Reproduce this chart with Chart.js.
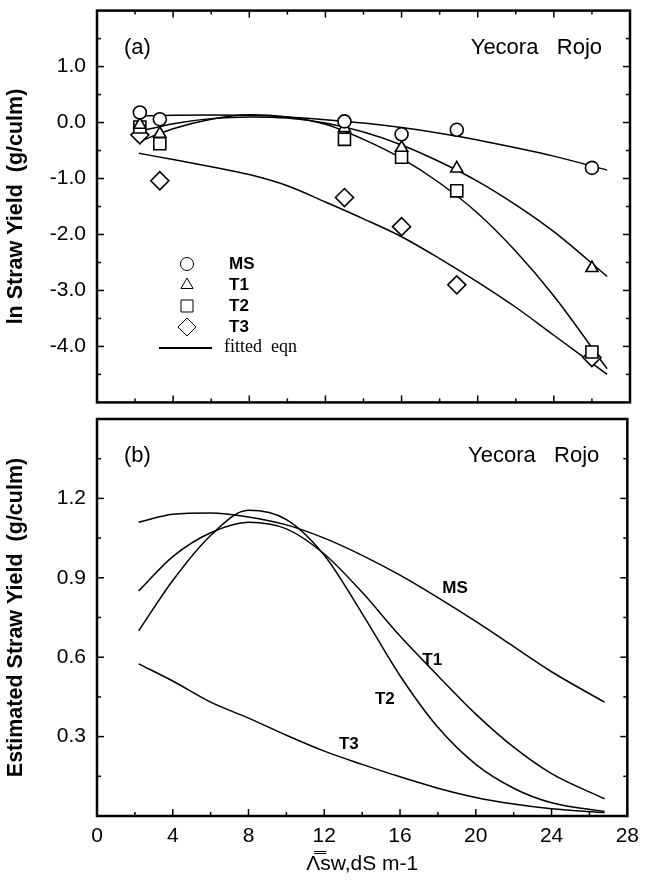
<!DOCTYPE html>
<html>
<head>
<meta charset="utf-8">
<script src="https://cdn.jsdelivr.net/npm/chart.js@4.4.1/dist/chart.umd.min.js"></script>
<style>
  html, body { margin: 0; padding: 0; background: #fff; }
  #wrap { position: relative; width: 647px; height: 882px; }
  #panelA { position: absolute; left: 0; top: 0; }
  #panelB { position: absolute; left: 0; top: 413px; }
</style>
</head>
<body>
<div id="wrap">
  <canvas id="panelA" width="647" height="413" style="width:647px;height:413px"></canvas>
  <canvas id="panelB" width="647" height="469" style="width:647px;height:469px"></canvas>
</div>
<script>
// observed ln straw yield, panel (a)
const xObs = [2.25, 3.3, 13.0, 16.0, 18.9, 26.0];
const msObs = [0.18, 0.06, 0.02, -0.21, -0.13, -0.81];
const t1Obs = [-0.04, -0.2, -0.1, -0.45, -0.82, -2.6];
const t2Obs = [-0.08, -0.38, -0.3, -0.62, -1.22, -4.1];
const t3Obs = [-0.22, -1.04, -1.34, -1.86, -2.9, -4.2];

// fitted eqn curves, panel (a)
const xFit = [2.2, 4, 6, 8, 10, 12, 14, 16, 18, 20, 22, 24, 26.8];
const msFit = [0.12, 0.13, 0.135, 0.13, 0.1, 0.05, -0.01, -0.09, -0.19, -0.31, -0.45, -0.6, -0.85];
const t1Fit = [-0.16, -0.02, 0.07, 0.1, 0.08, -0.01, -0.17, -0.4, -0.7, -1.05, -1.47, -1.95, -2.75];
const t2Fit = [-0.34, -0.11, 0.06, 0.14, 0.1, -0.03, -0.3, -0.64, -1.08, -1.62, -2.3, -3.1, -4.4];
const t3Fit = [-0.55, -0.66, -0.79, -0.93, -1.13, -1.42, -1.72, -2.04, -2.43, -2.85, -3.3, -3.8, -4.5];

// estimated straw yield, panel (b)
const msEst = [1.11, 1.14, 1.145, 1.13, 1.1, 1.05, 0.985, 0.91, 0.825, 0.735, 0.64, 0.545, 0.43];
const t1Est = [0.85, 0.98, 1.07, 1.11, 1.085, 0.99, 0.845, 0.68, 0.53, 0.385, 0.26, 0.16, 0.065];
const t2Est = [0.7, 0.89, 1.06, 1.155, 1.12, 0.985, 0.765, 0.53, 0.335, 0.195, 0.105, 0.05, 0.017];
const t3Est = [0.575, 0.51, 0.43, 0.37, 0.305, 0.245, 0.195, 0.148, 0.105, 0.07, 0.045, 0.027, 0.013];

const seriesNames = ["MS", "T1", "T2", "T3"];

// ticks
const xTicks = [0, 4, 8, 12, 16, 20, 24, 28];
const xMinor = [2, 6, 10, 14, 18, 22, 26];
const yTicksA = [-4, -3, -2, -1, 0, 1];
const yMinorA = [-4.5, -3.5, -2.5, -1.5, -0.5, 0.5, 1.5];
const yTicksB = [0.3, 0.6, 0.9, 1.2];
const yMinorB = [0.15, 0.45, 0.75, 1.05, 1.35];

const FONT = "'Liberation Sans', Arial, sans-serif";

const pts = (xs, ys) => xs.map((x, i) => ({ x: x, y: ys[i] }));

// frame with inward ticks
const framePlugin = {
  id: "frame",
  afterDraw(chart, args, opts) {
    const { ctx, chartArea: a } = chart;
    const x = chart.scales.x, y = chart.scales.y;
    ctx.save();
    ctx.strokeStyle = "#000";
    ctx.lineWidth = 1.5;
    const tick = (px, py, dx, dy) => {
      ctx.beginPath();
      ctx.moveTo(px, py);
      ctx.lineTo(px + dx, py + dy);
      ctx.stroke();
    };
    xTicks.forEach(v => {
      const p = x.getPixelForValue(v);
      tick(p, a.bottom, 0, -7);
      if (opts.top) tick(p, a.top, 0, 7);
    });
    xMinor.forEach(v => {
      const p = x.getPixelForValue(v);
      tick(p, a.bottom, 0, -4);
      if (opts.top) tick(p, a.top, 0, 4);
    });
    opts.yMajor.forEach(v => {
      const p = y.getPixelForValue(v);
      tick(a.left, p, 7, 0);
      tick(a.right, p, -7, 0);
    });
    opts.yMinor.forEach(v => {
      const p = y.getPixelForValue(v);
      tick(a.left, p, 4, 0);
      tick(a.right, p, -4, 0);
    });
    ctx.lineWidth = 2.5;
    ctx.strokeRect(a.left, a.top, a.right - a.left, a.bottom - a.top);
    ctx.restore();
  }
};

// panel tag and cultivar name
const tagPlugin = {
  id: "tags",
  afterDraw(chart, args, opts) {
    const { ctx, chartArea: a } = chart;
    ctx.save();
    ctx.fillStyle = "#000";
    ctx.font = "22px " + FONT;
    ctx.textBaseline = "middle";
    ctx.textAlign = "left";
    ctx.fillText(opts.tag, a.left + 27, a.top + 37);
    ctx.textAlign = "right";
    ctx.fillText("Yecora   Rojo", a.right - 28, a.top + 37);
    ctx.restore();
  }
};

// legend of panel (a)
const legendPlugin = {
  id: "keyA",
  afterDraw(chart) {
    const ctx = chart.ctx;
    const styles = [
      { pointStyle: "circle", radius: 6.5 },
      { pointStyle: "triangle", radius: 7 },
      { pointStyle: "rect", radius: 8.5 },
      { pointStyle: "rectRot", radius: 9 }
    ];
    ctx.save();
    ctx.strokeStyle = "#000";
    styles.forEach((s, i) => {
      const yy = 264 + i * 21;
      ctx.fillStyle = "#fff";
      Chart.helpers.drawPoint(ctx, { pointStyle: s.pointStyle, radius: s.radius, rotation: 0, borderWidth: 1.6 }, 187, yy);
      ctx.fillStyle = "#000";
      ctx.font = "bold 17px " + FONT;
      ctx.textBaseline = "middle";
      ctx.fillText(seriesNames[i], 229, yy);
    });
    ctx.lineWidth = 2;
    ctx.beginPath();
    ctx.moveTo(159, 348);
    ctx.lineTo(212, 348);
    ctx.stroke();
    ctx.font = "18px 'Liberation Serif', 'Times New Roman', serif";
    ctx.fillText("fitted  eqn", 224, 347);
    ctx.restore();
  }
};

// curve labels of panel (b), anchored in data units
const curveLabelPlugin = {
  id: "curveLabels",
  afterDraw(chart, args, opts) {
    const { ctx } = chart;
    ctx.save();
    ctx.fillStyle = "#000";
    ctx.font = "bold 17px " + FONT;
    ctx.textAlign = "center";
    ctx.textBaseline = "middle";
    opts.items.forEach(it => {
      ctx.fillText(it.text, chart.scales.x.getPixelForValue(it.x), chart.scales.y.getPixelForValue(it.y));
    });
    ctx.restore();
  }
};

const markerSet = (label, data, style, radius) => ({
  label: label,
  data: data,
  showLine: false,
  pointStyle: style,
  pointRadius: radius,
  pointBackgroundColor: "#fff",
  pointBorderColor: "#000",
  pointBorderWidth: 1.6
});

const curveSet = (label, data) => ({
  label: label,
  data: data,
  showLine: true,
  pointRadius: 0,
  borderColor: "#000",
  borderWidth: 1.5,
  cubicInterpolationMode: "monotone",
  fill: false
});

// keep the chart area where the frame is, no extra room for edge labels
const fixY = s => { s.width = 97; s.paddingTop = 0; s.paddingBottom = 0; };

const yTitleFont = { family: FONT, size: 21.5, weight: "bold" };
const tickFont = { family: FONT, size: 21 };

new Chart(document.getElementById("panelA"), {
  type: "scatter",
  data: {
    datasets: [
      markerSet("MS", pts(xObs, msObs), "circle", 6.5),
      markerSet("T1", pts(xObs, t1Obs), "triangle", 7),
      markerSet("T2", pts(xObs, t2Obs), "rect", 8.5),
      markerSet("T3", pts(xObs, t3Obs), "rectRot", 9),
      curveSet("MS fit", pts(xFit, msFit)),
      curveSet("T1 fit", pts(xFit, t1Fit)),
      curveSet("T2 fit", pts(xFit, t2Fit)),
      curveSet("T3 fit", pts(xFit, t3Fit))
    ]
  },
  options: {
    responsive: false,
    animation: false,
    layout: { padding: { left: 0, right: 17, top: 9, bottom: 6 } },
    plugins: {
      legend: { display: false },
      tooltip: { enabled: false },
      frame: { top: true, yMajor: yTicksA, yMinor: yMinorA },
      tags: { tag: "(a)" }
    },
    scales: {
      x: { type: "linear", min: 0, max: 28, display: false },
      y: {
        min: -5,
        max: 2,
        afterBuildTicks: s => { s.ticks = yTicksA.map(v => ({ value: v })); },
        afterFit: fixY,
        ticks: { color: "#000", font: tickFont, padding: 11, callback: v => v.toFixed(1) },
        grid: { display: false, drawTicks: false },
        border: { display: false },
        title: { display: true, text: "ln Straw Yield  (g/culm)", color: "#000", font: yTitleFont, padding: { top: 3, bottom: 0 } }
      }
    }
  },
  plugins: [framePlugin, tagPlugin, legendPlugin]
});

new Chart(document.getElementById("panelB"), {
  type: "scatter",
  data: {
    datasets: [
      curveSet("MS", pts(xFit, msEst)),
      curveSet("T1", pts(xFit, t1Est)),
      curveSet("T2", pts(xFit, t2Est)),
      curveSet("T3", pts(xFit, t3Est))
    ]
  },
  options: {
    responsive: false,
    animation: false,
    layout: { padding: { left: 0, right: 17, top: 6, bottom: 0 } },
    plugins: {
      legend: { display: false },
      tooltip: { enabled: false },
      frame: { top: false, yMajor: yTicksB, yMinor: yMinorB },
      tags: { tag: "(b)" },
      curveLabels: {
        items: [
          { text: "MS", x: 18.9, y: 0.86 },
          { text: "T1", x: 17.7, y: 0.59 },
          { text: "T2", x: 15.2, y: 0.44 },
          { text: "T3", x: 13.3, y: 0.27 }
        ]
      }
    },
    scales: {
      x: {
        type: "linear",
        min: 0,
        max: 28,
        afterBuildTicks: s => { s.ticks = xTicks.map(v => ({ value: v })); },
        afterFit: s => { s.height = 66; },
        ticks: { color: "#000", font: tickFont, padding: 8, maxRotation: 0 },
        grid: { display: false, drawTicks: false },
        border: { display: false },
        title: { display: true, text: "Λ̿sw,dS m-1", color: "#000", font: { family: FONT, size: 21 }, padding: { top: 0, bottom: 5 } }
      },
      y: {
        min: 0,
        max: 1.5,
        afterBuildTicks: s => { s.ticks = yTicksB.map(v => ({ value: v })); },
        afterFit: fixY,
        ticks: { color: "#000", font: tickFont, padding: 11, callback: v => v.toFixed(1) },
        grid: { display: false, drawTicks: false },
        border: { display: false },
        title: { display: true, text: "Estimated Straw Yield  (g/culm)", color: "#000", font: yTitleFont, padding: { top: 3, bottom: 0 } }
      }
    }
  },
  plugins: [framePlugin, tagPlugin, curveLabelPlugin]
});
</script>
</body>
</html>
